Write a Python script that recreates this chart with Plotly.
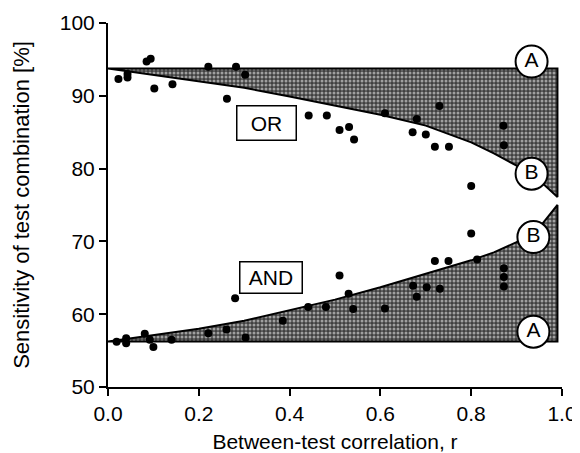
import plotly.graph_objects as go

# Bounds of the combined sensitivity (two tests, 75% each)
r_curve = [0.0, 0.1, 0.2, 0.3, 0.4, 0.5, 0.6, 0.7, 0.8, 0.85, 0.9, 0.95, 0.99]
or_a = 93.75
or_b = [93.75, 92.9, 92.0, 91.1, 89.9, 88.7, 87.4, 85.9, 83.6, 82.1, 80.4, 78.4, 76.1]
and_a = 56.25
and_b = [56.25, 57.1, 58.0, 59.1, 60.5, 62.0, 63.7, 65.5, 67.4, 68.5, 69.9, 71.9, 75.0]

# Observed study combinations
or_r = [0.023, 0.043, 0.043, 0.085, 0.094, 0.102, 0.142, 0.221, 0.262, 0.282, 0.302,
        0.442, 0.482, 0.51, 0.531, 0.542, 0.61, 0.671, 0.68, 0.70, 0.72, 0.73,
        0.751, 0.80, 0.871, 0.872]
or_sens = [92.3, 92.5, 93.0, 94.7, 95.1, 91.0, 91.6, 94.0, 89.6, 94.0, 92.9,
           87.3, 87.3, 85.3, 85.7, 84.0, 87.6, 85.0, 86.8, 84.7, 83.0, 88.6,
           83.0, 77.6, 85.9, 83.2]
and_r = [0.019, 0.04, 0.04, 0.081, 0.092, 0.10, 0.14, 0.221, 0.261, 0.28, 0.303,
         0.385, 0.441, 0.48, 0.51, 0.53, 0.54, 0.61, 0.672, 0.68, 0.702, 0.72,
         0.731, 0.75, 0.80, 0.813, 0.872, 0.872, 0.872]
and_sens = [56.2, 56.7, 56.0, 57.3, 56.5, 55.5, 56.5, 57.4, 57.9, 62.2, 56.8,
            59.1, 61.0, 61.0, 65.3, 62.8, 60.7, 60.8, 63.9, 62.4, 63.7, 67.3,
            63.5, 67.3, 71.1, 67.5, 66.3, 65.1, 63.8]

# Circled curve labels
lab_r = [0.933, 0.933, 0.937, 0.937]
lab_sens = [94.7, 79.3, 70.6, 57.6]
lab_text = ["A", "B", "B", "A"]

font = "Liberation Sans, Arial, sans-serif"
fig = go.Figure()

# speckled grey fill like the printed stipple
stipple = dict(shape=".", bgcolor="#404040", fgcolor="white", size=4, solidity=0.45)

# OR region: line A on top, curve B below
x_end = r_curve[-1]
fig.add_trace(go.Scatter(
    x=[0.0, x_end] + r_curve[::-1],
    y=[or_a, or_a] + or_b[::-1],
    fill="toself", fillpattern=stipple, fillcolor="#404040",
    line=dict(color="black", width=2), mode="lines",
    hoverinfo="skip", showlegend=False,
))
# AND region: line A at bottom, curve B above
fig.add_trace(go.Scatter(
    x=[0.0, x_end] + r_curve[::-1],
    y=[and_a, and_a] + and_b[::-1],
    fill="toself", fillpattern=stipple, fillcolor="#404040",
    line=dict(color="black", width=2), mode="lines",
    hoverinfo="skip", showlegend=False,
))

fig.add_trace(go.Scatter(
    x=or_r + and_r, y=or_sens + and_sens, mode="markers",
    marker=dict(color="black", size=8), showlegend=False,
))

fig.add_trace(go.Scatter(
    x=lab_r, y=lab_sens, mode="markers+text", text=lab_text,
    textposition="middle center", textfont=dict(family=font, size=21, color="black"),
    marker=dict(color="white", size=32, line=dict(color="black", width=2)),
    showlegend=False, cliponaxis=False,
))

# boxed rule labels
for txt, xr, yv, w, h in [("OR", 0.35, 86.3, 56, 31), ("AND", 0.36, 65.0, 59, 28)]:
    fig.add_annotation(
        x=xr, y=yv, text=txt, showarrow=False, width=w, height=h, align="center",
        font=dict(family=font, size=21, color="black"),
        bordercolor="black", borderwidth=1.5, bgcolor="white", borderpad=1,
    )

axis_common = dict(
    showline=True, linecolor="black", linewidth=2,
    ticks="outside", tickcolor="black", tickwidth=2, ticklen=7,
    showgrid=False, zeroline=False, automargin=False,
    tickfont=dict(family=font, size=21, color="black"),
)
fig.update_xaxes(range=[0, 1], tickvals=[0, 0.2, 0.4, 0.6, 0.8, 1.0], tickformat=".1f",
                 title=dict(text="Between-test correlation, r", standoff=12,
                            font=dict(family=font, size=21, color="black")),
                 **axis_common)
fig.update_yaxes(range=[50, 100], tickvals=[50, 60, 70, 80, 90, 100],
                 title=dict(text="Sensitivity of test combination [%]", standoff=24,
                            font=dict(family=font, size=22, color="black")),
                 **axis_common)

# page body adds ~8px offset, so the figure is a little smaller than the window
fig.update_layout(
    width=572, height=445,
    margin=dict(l=100, r=18, t=15, b=66),
    plot_bgcolor="white", paper_bgcolor="white",
)

fig.write_html("out.html")
